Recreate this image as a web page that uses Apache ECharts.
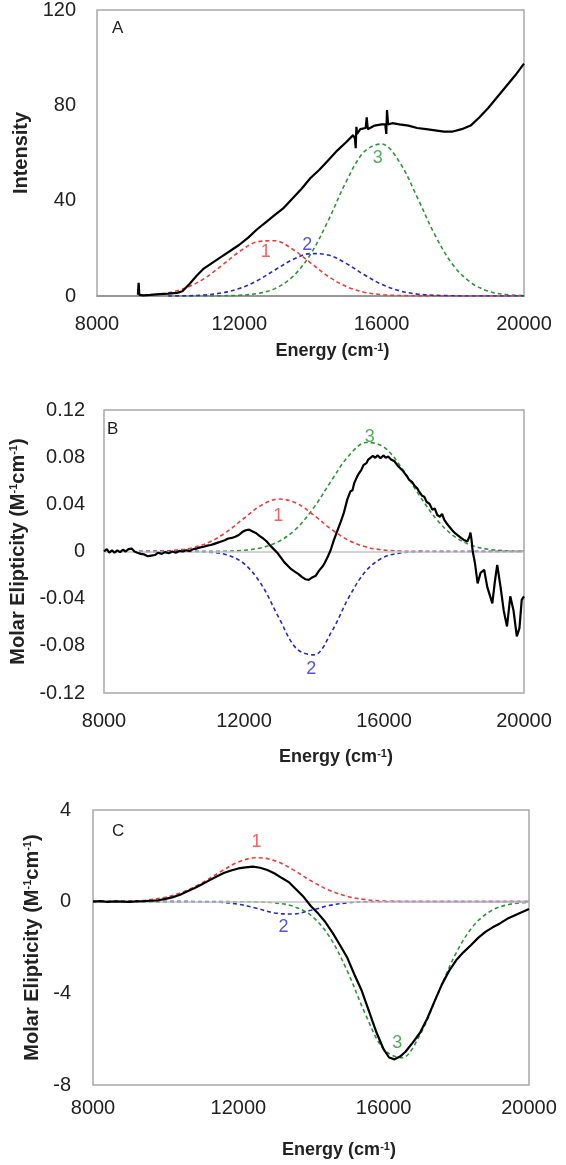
<!DOCTYPE html>
<html>
<head>
<meta charset="utf-8">
<script src="https://cdn.jsdelivr.net/npm/echarts@6/dist/echarts.min.js"></script>
<style>
html,body{margin:0;padding:0;background:#fff;}
#chart{width:566px;height:1165px;}
</style>
</head>
<body>
<div id="chart"></div>
<script>
// ---------- DATA ----------
const xTickLabels = ['8000', '12000', '16000', '20000'];
const yTicksA = ['0', '40', '80', '120'];
const yTicksB = ['-0.12', '-0.08', '-0.04', '0', '0.04', '0.08', '0.12'];
const yTicksC = ['-8', '-4', '0', '4'];
const panelLetters = ['A', 'B', 'C'];
const peakNames = ['1', '2', '3'];

// energy grid for the fitted Gaussian components (cm-1)
const fitEnergy = [8000, 8500, 9000, 9500, 10000, 10500, 11000, 11500, 12000, 12500, 13000, 13500,
  14000, 14500, 15000, 15500, 16000, 16500, 17000, 17500, 18000, 18500, 19000, 19500, 20000];

// Panel A (Intensity)
const aFit1 = [null, null, null, null, 1.3, 3.4, 7.2, 12.7, 18.6, 22.7, 23.2, 19.6, 13.9, 8.2, 4.0, 1.6, 0.6, 0.2, 0.05, 0, 0, 0, 0, 0, 0];
const aFit2 = [null, null, null, null, 0, 0.1, 0.4, 1.3, 3.1, 6.4, 10.9, 15.3, 17.8, 17.2, 13.7, 9.0, 4.9, 2.2, 0.8, 0.3, 0.1, 0, 0, 0, 0];
const aFit3 = [null, null, null, null, 0, 0, 0, 0.1, 0.3, 1.0, 3.1, 8.1, 17.5, 31.7, 47.9, 60.4, 63.8, 56.2, 41.4, 25.5, 13.1, 5.7, 2.0, 0.6, 0.2];
const aExpX = [9150, 9170, 9190, 9300, 9500, 9750, 10000, 10250, 10400, 10600, 10800, 11000, 11250, 11500, 11750, 12000, 12250, 12500, 12750, 13000, 13250, 13500, 13750, 14000, 14250, 14500, 14750, 15000, 15200, 15250, 15270, 15290, 15310, 15400, 15550, 15580, 15610, 15800, 16000, 16100, 16130, 16150, 16180, 16300, 16500, 16750, 17000, 17250, 17500, 17750, 18000, 18250, 18500, 18750, 19000, 19250, 19500, 19750, 20000];
const aExpY = [0.5, 5.5, 0.5, 0.3, 0.5, 0.8, 1.0, 1.3, 2.0, 5, 8.5, 11.5, 14, 16.5, 19, 21.5, 24.5, 28, 31, 34, 37, 41, 45, 49.5, 53, 57, 61, 64.5, 67.5, 66, 62, 71, 68, 70, 70.5, 75, 70, 71.5, 72, 72, 68, 78, 72, 72.5, 72, 71.5, 70.5, 70, 69.5, 69, 69, 70, 71.5, 75, 79, 83.5, 88, 92.5, 97.5];
const aLabelX = [12741, 13909, 15888];
const aLabelY = [18.5, 21.5, 58];

// Panel B (CD, molar ellipticity)
const bFit1 = [null, null, 0, 0.0002, 0.001, 0.003, 0.0078, 0.0165, 0.0282, 0.0393, 0.0445, 0.041, 0.0307, 0.0187, 0.0093, 0.0037, 0.0012, 0.0003, 0.0001, 0, 0, 0, 0, 0, 0];
const bFit2 = [null, null, 0, 0, 0, 0, -0.0005, -0.0027, -0.0102, -0.0281, -0.0564, -0.0824, -0.0877, -0.0682, -0.0386, -0.0159, -0.0048, -0.0011, -0.0001, 0, 0, 0, 0, 0, 0];
const bFit3 = [null, null, 0, 0, 0, 0, 0.0001, 0.0003, 0.001, 0.0032, 0.0086, 0.0195, 0.0374, 0.0602, 0.0814, 0.0925, 0.0885, 0.0711, 0.048, 0.0273, 0.013, 0.0052, 0.0018, 0.0005, 0.0001];
const bExpX = [8000, 8080, 8150, 8230, 8300, 8380, 8460, 8540, 8620, 8700, 8790, 8870, 8950, 9050, 9150, 9250, 9350, 9450, 9550, 9650, 9750, 9850, 9950, 10050, 10150, 10250, 10350, 10450, 10550, 10650, 10750, 10850, 10950, 11050, 11150, 11250, 11350, 11450, 11550, 11650, 11750, 11850, 11950, 12050, 12150, 12250, 12350, 12450, 12550, 12650, 12750, 12850, 12950, 13050, 13150, 13250, 13350, 13450, 13550, 13650, 13750, 13800, 13850, 13950, 14050, 14150, 14250, 14300, 14400, 14480, 14560, 14660, 14700, 14760, 14850, 14950, 15040, 15100, 15150, 15230, 15300, 15350, 15420, 15500, 15550, 15600, 15680, 15750, 15820, 15900, 15980, 16050, 16120, 16200, 16300, 16400, 16450, 16550, 16650, 16720, 16800, 16880, 16950, 17000, 17080, 17150, 17220, 17300, 17380, 17450, 17520, 17600, 17660, 17720, 17800, 17880, 17950, 18030, 18120, 18200, 18300, 18380, 18440, 18470, 18500, 18535, 18600, 18675, 18760, 18862, 18950, 19095, 19170, 19235, 19330, 19420, 19515, 19608, 19700, 19795, 19870, 19935, 20000];
const bExpY = [0.000, 0.002, -0.001, 0.001, -0.001, 0.001, -0.0005, 0.0015, 0.000, 0.002, 0.0025, 0.000, -0.001, -0.002, -0.0025, -0.004, -0.0035, -0.003, -0.001, -0.002, -0.0005, -0.0015, 0.000, -0.001, 0.0005, 0.000, 0.001, 0.0005, 0.002, 0.0025, 0.0035, 0.004, 0.005, 0.0055, 0.0065, 0.0075, 0.0085, 0.0095, 0.011, 0.0115, 0.0125, 0.014, 0.0165, 0.018, 0.0185, 0.017, 0.0155, 0.013, 0.011, 0.0085, 0.005, 0.002, -0.001, -0.005, -0.009, -0.012, -0.015, -0.017, -0.019, -0.0215, -0.0235, -0.022, -0.024, -0.022, -0.0205, -0.016, -0.0125, -0.01, -0.004, 0.0015, 0.009, 0.017, 0.0175, 0.025, 0.0325, 0.044, 0.051, 0.052, 0.058, 0.0635, 0.067, 0.069, 0.0735, 0.075, 0.078, 0.0785, 0.081, 0.0795, 0.0815, 0.079, 0.0815, 0.0795, 0.0805, 0.078, 0.0765, 0.0725, 0.0735, 0.068, 0.064, 0.0607, 0.059, 0.0555, 0.0535, 0.051, 0.0475, 0.0465, 0.042, 0.0405, 0.0355, 0.0365, 0.031, 0.0295, 0.032, 0.027, 0.0235, 0.0205, 0.018, 0.0155, 0.0135, 0.0115, 0.0095, 0.0085, 0.0125, 0.016, 0.010, 0.000, -0.01, -0.027, -0.018, -0.0155, -0.03, -0.044, -0.025, -0.0113, -0.03, -0.05, -0.0636, -0.038, -0.05, -0.072, -0.065, -0.041, -0.038];
const bLabelX = [12982, 13924, 15595];
const bLabelY = [0.0297, -0.0997, 0.0975];

// Panel C (MCD)
const cFit1 = [0, 0.005, 0.022, 0.072, 0.193, 0.435, 0.82, 1.30, 1.73, 1.92, 1.79, 1.40, 0.91, 0.50, 0.23, 0.089, 0.029, 0.008, 0.002, 0, 0, 0, 0, 0, 0];
const cFit2 = [0, 0, 0, 0, 0, 0, -0.004, -0.026, -0.109, -0.289, -0.493, -0.539, -0.378, -0.170, -0.049, -0.009, -0.001, 0, 0, 0, 0, 0, 0, 0, 0];
const cFit3 = [0, 0, 0, 0, 0, 0, 0, 0, -0.002, -0.011, -0.051, -0.197, -0.60, -1.51, -3.03, -4.92, -6.44, -6.81, -5.81, -4.0, -2.22, -1.0, -0.36, -0.106, -0.025];
const cExpX = [8000, 8200, 8400, 8600, 8800, 9000, 9200, 9400, 9600, 9800, 10000, 10200, 10400, 10600, 10800, 11000, 11200, 11400, 11600, 11800, 12000, 12200, 12400, 12600, 12800, 13000, 13200, 13400, 13600, 13800, 14000, 14200, 14400, 14600, 14800, 15000, 15200, 15400, 15600, 15800, 16000, 16150, 16300, 16450, 16600, 16800, 17000, 17200, 17400, 17600, 17800, 18000, 18200, 18400, 18600, 18800, 19000, 19200, 19400, 19600, 19800, 20000];
const cExpY = [0.00, 0.02, -0.01, 0.01, 0.00, -0.01, 0.01, 0.02, 0.04, 0.06, 0.12, 0.2, 0.3, 0.45, 0.6, 0.76, 0.93, 1.1, 1.25, 1.36, 1.45, 1.5, 1.53, 1.48, 1.38, 1.23, 1.03, 0.84, 0.52, 0.2, -0.2, -0.52, -0.9, -1.37, -1.9, -2.45, -3.2, -3.9, -4.8, -5.7, -6.45, -6.8, -6.88, -6.76, -6.55, -6.15, -5.72, -5.1, -4.35, -3.62, -3.02, -2.55, -2.2, -1.9, -1.58, -1.32, -1.12, -0.95, -0.75, -0.6, -0.46, -0.32];
const cLabelX = [12500, 13245, 16374];
const cLabelY = [2.62, -1.09, -6.15];

// ---------- STYLE ----------
const FONT = 'Liberation Sans, Arial, sans-serif';
const RED = '#f03a3a', BLUE = '#2828c8', GREEN = '#2e9438';
const fitColors = [RED, BLUE, GREEN];

function pairs(xs, ys) { return xs.map((x, i) => [x, ys[i]]); }
function fitPairs(ys) { return fitEnergy.map((x, i) => [x, ys[i] === null ? '-' : ys[i]]); }
function lookupFmt(list) {
  return function (v) {
    const f = list.find(s => Math.abs(parseFloat(s) - v) < 1e-9);
    return f === undefined ? '' : f;
  };
}

const grids = [
  { left: 97, top: 8, width: 427, height: 288 },
  { left: 95, top: 410, width: 429, height: 283 },
  { left: 93, top: 810, width: 436, height: 275 }
];
const yRanges = [[0, 120, 40, yTicksA], [-0.12, 0.12, 0.04, yTicksB], [-8, 4, 4, yTicksC]];
const yNames = ['Intensity', 'Molar Elipticity (M{s|-1}cm{s|-1})', 'Molar Elipticity (M{s|-1}cm{s|-1})'];
const yNameGaps = [45, 76, 46];
const yLabelMargins = [21, 19, 22];
const xLabelMargins = [18, 18, 13];
const xNameGaps = [46, 55, 56];
const xNameShift = [44, 44, 56];

const richTitle = {
  s: { fontSize: 11, fontWeight: 'bold', fontFamily: FONT, color: '#222', verticalAlign: 'top', lineHeight: 12, padding: [0, 0, 6, 0] }
};

const option = {
  animation: false,
  backgroundColor: '#fff',
  grid: grids.map(g => Object.assign({ show: true, borderColor: '#a8a8a8', borderWidth: 1.5, backgroundColor: 'transparent' }, g)),
  xAxis: grids.map((g, i) => ({
    type: 'value', gridIndex: i, min: 8000, max: 20000, interval: 4000,
    axisLine: { show: i === 0, onZero: false, lineStyle: { color: '#8c8c8c', width: 1.5 } },
    axisTick: { show: false },
    splitLine: { show: false },
    axisLabel: { fontFamily: FONT, fontSize: 20, color: '#222', margin: xLabelMargins[i], formatter: lookupFmt(xTickLabels) },
    name: 'Energy (cm{s|-1})',
    nameLocation: 'middle',
    nameGap: xNameGaps[i],
    nameTextStyle: { fontFamily: FONT, fontSize: 18, fontWeight: 'bold', color: '#222', padding: [0, 0, 0, xNameShift[i]], rich: richTitle }
  })),
  yAxis: grids.map((g, i) => ({
    type: 'value', gridIndex: i, min: yRanges[i][0], max: yRanges[i][1], interval: yRanges[i][2],
    axisLine: { show: false },
    axisTick: { show: false },
    splitLine: { show: false },
    axisLabel: { fontFamily: FONT, fontSize: 20, color: '#222', margin: yLabelMargins[i], formatter: lookupFmt(yRanges[i][3]) },
    name: yNames[i],
    nameLocation: 'middle',
    nameRotate: 90,
    nameGap: yNameGaps[i],
    nameTextStyle: { fontFamily: FONT, fontSize: 20, fontWeight: 'bold', color: '#222', rich: richTitle }
  })),
  graphic: panelLetters.map((t, i) => ({
    type: 'text',
    left: grids[i].left + [15, 12, 19][i],
    top: grids[i].top + [12, 11, 13][i],
    style: { text: t, fontFamily: FONT, fontSize: 17, fill: '#222' }
  })),
  series: []
};

const fits = [[aFit1, aFit2, aFit3], [bFit1, bFit2, bFit3], [cFit1, cFit2, cFit3]];
const exps = [[aExpX, aExpY], [bExpX, bExpY], [cExpX, cExpY]];
const labs = [[aLabelX, aLabelY], [bLabelX, bLabelY], [cLabelX, cLabelY]];
const drawOrder = [2, 0, 1]; // green, red, blue

for (let p = 0; p < 3; p++) {
  drawOrder.forEach((k, j) => {
    const s = {
      type: 'line', xAxisIndex: p, yAxisIndex: p, z: 2 + j,
      data: fitPairs(fits[p][k]), smooth: 0.35, showSymbol: false, symbol: 'none',
      lineStyle: { color: fitColors[k], width: 1.6, type: [4, 3] },
      silent: true
    };
    if (j === 0 && p > 0) {
      s.markLine = {
        silent: true, symbol: 'none', label: { show: false },
        lineStyle: { color: '#c4c4c4', width: 1.5, type: 'solid' },
        data: [{ yAxis: 0 }]
      };
      s.z = 1;
    }
    option.series.push(s);
  });
  option.series.push({
    type: 'line', xAxisIndex: p, yAxisIndex: p, z: 10,
    data: pairs(exps[p][0], exps[p][1]), showSymbol: false, symbol: 'none',
    lineStyle: { color: '#000', width: 2.2 }, silent: true
  });
  option.series.push({
    type: 'scatter', xAxisIndex: p, yAxisIndex: p, z: 11, symbolSize: 0, silent: true,
    data: peakNames.map((n, k) => ({ name: n, value: [labs[p][0][k], labs[p][1][k]],
      label: { show: true, position: 'inside', formatter: n, fontFamily: FONT, fontSize: 18, color: fitColors[k] } }))
  });
}

const chart = echarts.init(document.getElementById('chart'), null, { renderer: 'canvas' });
chart.setOption(option);
</script>
</body>
</html>
